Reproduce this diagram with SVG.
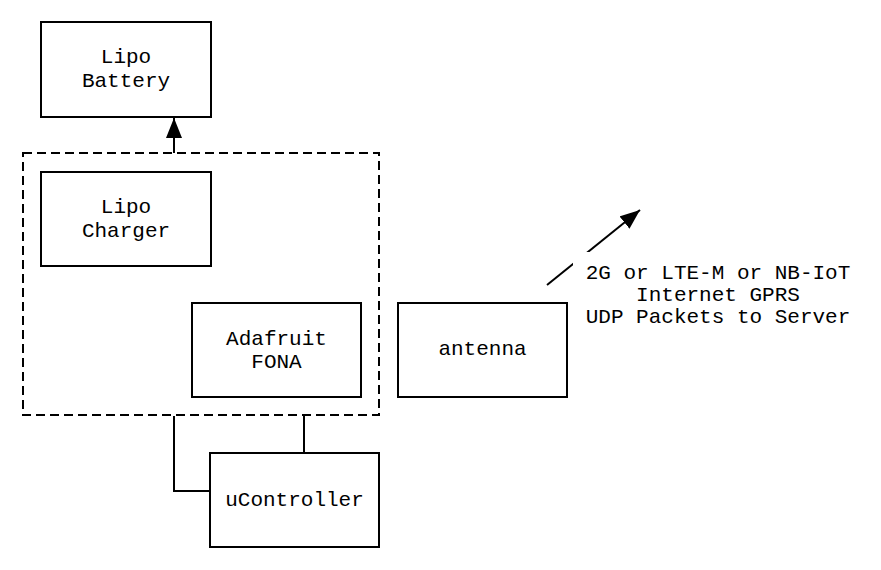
<svg xmlns="http://www.w3.org/2000/svg" width="881" height="570" viewBox="0 0 881 570">
<style>
.box{fill:#fff;stroke:#000;stroke-width:2}
.t{font-family:"Liberation Mono","Courier New",monospace;font-size:21px;fill:#000;text-anchor:middle}
.c{fill:none;stroke:#000;stroke-width:2}
</style>
<defs>
<marker id="ah" markerWidth="10" markerHeight="8" refX="9" refY="4" orient="auto" markerUnits="userSpaceOnUse" viewBox="0 0 10 8">
<path d="M0,0 L10,4 L0,8 Z" fill="#000"/>
</marker>
<marker id="ah2" viewBox="0 0 20 16" refX="20" refY="8" markerWidth="20" markerHeight="16" orient="auto" markerUnits="userSpaceOnUse">
<path d="M0,0 L20,8 L0,16 Z" fill="#000"/>
</marker>
</defs>
<rect width="881" height="570" fill="#fff"/>
<g id="group-dashed">
<rect x="23" y="153" width="356" height="262" fill="none" stroke="#000" stroke-width="2" stroke-dasharray="9,5"/>
</g>
<g id="connectors">
<line class="c" x1="174" y1="153" x2="174" y2="118" marker-end="url(#ah2)"/>
<polyline class="c" points="174,416 174,491 211,491"/>
<line class="c" x1="304" y1="416" x2="304" y2="453"/>
<line class="c" x1="547" y1="285" x2="640" y2="210" marker-end="url(#ah2)"/>
</g>
<g id="battery">
<rect class="box" x="41" y="22" width="170" height="95"/>
<text class="t" x="126" y="63">Lipo</text>
<text class="t" x="126" y="87">Battery</text>
</g>
<g id="charger">
<rect class="box" x="41" y="172" width="170" height="94"/>
<text class="t" x="126" y="213">Lipo</text>
<text class="t" x="126" y="237">Charger</text>
</g>
<g id="fona">
<rect class="box" x="192" y="303" width="169" height="94"/>
<text class="t" x="276.5" y="345">Adafruit</text>
<text class="t" x="276.5" y="368">FONA</text>
</g>
<g id="antenna">
<rect class="box" x="398" y="303" width="169" height="94"/>
<text class="t" x="482.5" y="355">antenna</text>
</g>
<g id="ucontroller">
<rect class="box" x="210" y="453" width="169" height="94"/>
<text class="t" x="294.5" y="506">uController</text>
</g>
<g id="label">
<rect x="573" y="252" width="285" height="84" fill="#fff"/>
<text class="t" x="718" y="279">2G or LTE-M or NB-IoT</text>
<text class="t" x="718" y="301">Internet GPRS</text>
<text class="t" x="718" y="323">UDP Packets to Server</text>
</g>
</svg>
